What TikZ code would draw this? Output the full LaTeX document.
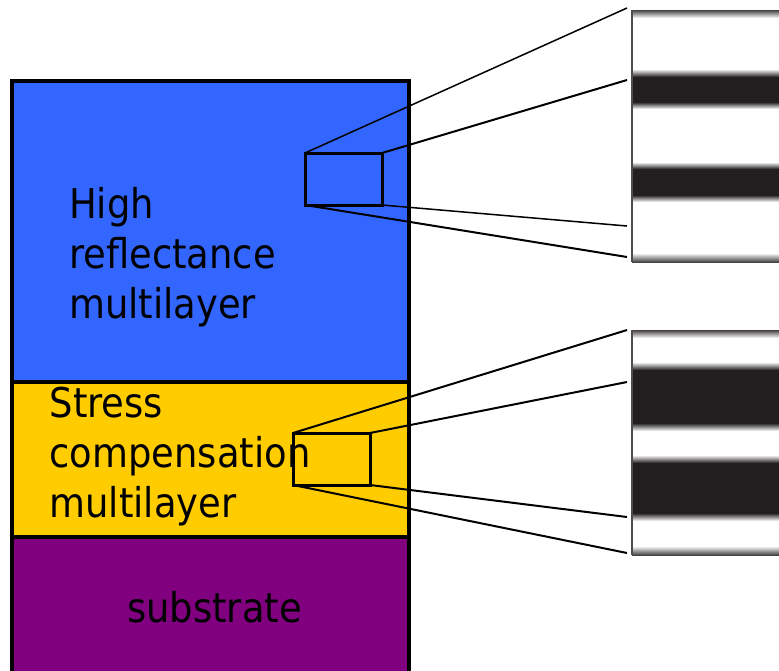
\documentclass[tikz,border=0pt]{standalone}
\usepackage{fontspec}
\setmainfont{DejaVu Sans Condensed}
\definecolor{hrblue}{RGB}{51,102,255}
\definecolor{scyellow}{RGB}{255,204,0}
\definecolor{subpurple}{RGB}{128,0,128}
\definecolor{inkband}{RGB}{35,31,32}
\begin{document}
\begin{tikzpicture}[x=1pt,y=-1pt,
  layer/.style={draw=black, line width=3.4pt, anchor=north west, inner sep=0pt, outer sep=0pt},
  zoombox/.style={draw=black, line width=3pt, anchor=north west, inner sep=0pt, outer sep=0pt, minimum width=77pt, minimum height=52pt},
  picframe/.style={anchor=north west, inner sep=0pt, outer sep=0pt, minimum width=147pt, fill=white},
  lbl/.style={anchor=base west, inner sep=0pt, font=\fontsize{41}{50}\selectfont},
  ray/.style={line width=2pt}]
\useasboundingbox (0,0) rectangle (779,670);
% layers
\node[layer, fill=hrblue, minimum width=397pt, minimum height=301pt] (hr) at (12,81) {};
\node[layer, fill=scyellow, minimum width=397pt, minimum height=155pt] (sc) at (12,382) {};
\node[layer, fill=subpurple, minimum width=397pt, minimum height=150pt] (sub) at (12,537) {};
% labels
\node[lbl] (hr1) at (69,218) {High};
\node[lbl] (hr2) at (69,268) {reflectance};
\node[lbl] (hr3) at (69,318) {multilayer};
\node[lbl] (sc1) at (49.5,417) {Stress};
\node[lbl] (sc2) at (49.5,467) {compensation};
\node[lbl] (sc3) at (49.5,517) {multilayer};
\node[lbl] (sub1) at (127,622) {substrate};
% zoom boxes
\node[zoombox] (b1) at (305,153) {};
\node[zoombox] (b2) at (293,433) {};
% picture 1
\node[picframe, minimum height=252pt] (p1) at (632,10) {};
\shade[top color=inkband!85, bottom color=white] (632,10) rectangle (779,18);
\shade[top color=white, bottom color=inkband] (632,69) rectangle (779,77);
\fill[inkband] (632,77) rectangle (779,102);
\shade[top color=inkband, bottom color=white] (632,102) rectangle (779,109);
\shade[top color=white, bottom color=inkband] (632,162) rectangle (779,169);
\fill[inkband] (632,169) rectangle (779,195);
\shade[top color=inkband, bottom color=white] (632,195) rectangle (779,202);
\shade[top color=white, bottom color=inkband!85] (632,253) rectangle (779,262);
\draw[inkband!80, line width=1.4pt] (p1.north west) -- (p1.south west);
% picture 2
\node[picframe, minimum height=225pt] (p2) at (632,330) {};
\shade[top color=inkband!85, bottom color=white] (632,330) rectangle (779,338);
\shade[top color=white, bottom color=inkband] (632,362) rectangle (779,370);
\fill[inkband] (632,370) rectangle (779,423);
\shade[top color=inkband, bottom color=white] (632,423) rectangle (779,431);
\shade[top color=white, bottom color=inkband] (632,455) rectangle (779,463);
\fill[inkband] (632,463) rectangle (779,513);
\shade[top color=inkband, bottom color=white] (632,513) rectangle (779,521);
\shade[top color=white, bottom color=inkband!85] (632,546) rectangle (779,555);
\draw[inkband!80, line width=1.4pt] (p2.north west) -- (p2.south west);
% ray end points
\coordinate (e1a) at (627,8);
\coordinate (e1b) at (627,80);
\coordinate (e1c) at (627,226);
\coordinate (e1d) at (627,257);
\coordinate (e2a) at (627,330);
\coordinate (e2b) at (627,382);
\coordinate (e2c) at (627,517);
\coordinate (e2d) at (627,553);
% rays
\draw[ray, line width=1.5pt] (b1.north west) -- (e1a);
\draw[ray] (b1.north east) -- (e1b);
\draw[ray, line width=1.5pt] (b1.south east) -- (e1c);
\draw[ray] (b1.south west) -- (e1d);
\draw[ray] (b2.north west) -- (e2a);
\draw[ray] (b2.north east) -- (e2b);
\draw[ray] (b2.south east) -- (e2c);
\draw[ray] (b2.south west) -- (e2d);
\end{tikzpicture}
\end{document}
